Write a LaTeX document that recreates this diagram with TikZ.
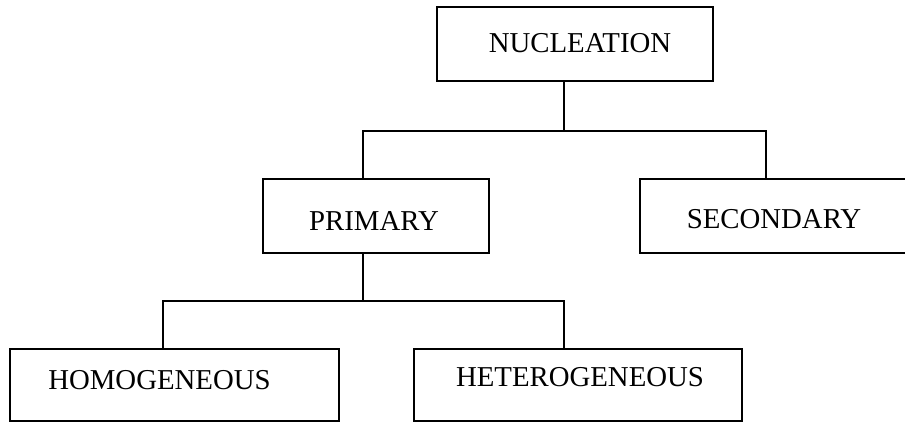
\documentclass[tikz,border=0pt]{standalone}
\usepackage{fontspec}
\setmainfont{Liberation Serif}
\begin{document}
\begin{tikzpicture}[x=0.5pt,y=-0.5pt,
  box/.style={draw=black, line width=0.9pt, rectangle, inner sep=0pt},
  lbl/.style={inner sep=0pt, anchor=center, font=\fontsize{14.4}{17}\selectfont},
  link/.style={draw=black, line width=0.8pt}]
  \useasboundingbox (0,0) rectangle (905,423);
  \clip (0,0) rectangle (905,423);

  % boxes
  \node[box, minimum width=138pt, minimum height=37pt] (nuc) at (575,44) {};
  \node[box, minimum width=113pt, minimum height=37pt] (pri) at (376,216) {};
  \node[box, minimum width=140pt, minimum height=37pt] (sec) at (780,216) {};
  \node[box, minimum width=164.5pt, minimum height=36pt] (hom) at (174.5,385) {};
  \node[box, minimum width=164pt, minimum height=36pt] (het) at (578,385) {};

  % labels
  \node[lbl] (nuct) at (580,43) {NUCLEATION};
  \node[lbl] (prit) at (374,221) {PRIMARY};
  \node[lbl] (sect) at (774,219) {SECONDARY};
  \node[lbl] (homt) at (159.5,380) {HOMOGENEOUS};
  \node[lbl] (hett) at (580,377.5) {HETEROGENEOUS};

  % junction points of the tree connectors
  \coordinate (a0) at (564,131);
  \coordinate (a1) at (363,131);
  \coordinate (a2) at (766,131);
  \coordinate (b0) at (363,301);
  \coordinate (b1) at (163,301);
  \coordinate (b2) at (564,301);

  % connectors
  \draw[link] (nuc.south -| a0) -- (a0);
  \draw[link] (pri.north -| a1) -- (a1) -- (a2) -- (sec.north -| a2);
  \draw[link] (pri.south -| b0) -- (b0);
  \draw[link] (hom.north -| b1) -- (b1) -- (b2) -- (het.north -| b2);
\end{tikzpicture}
\end{document}
